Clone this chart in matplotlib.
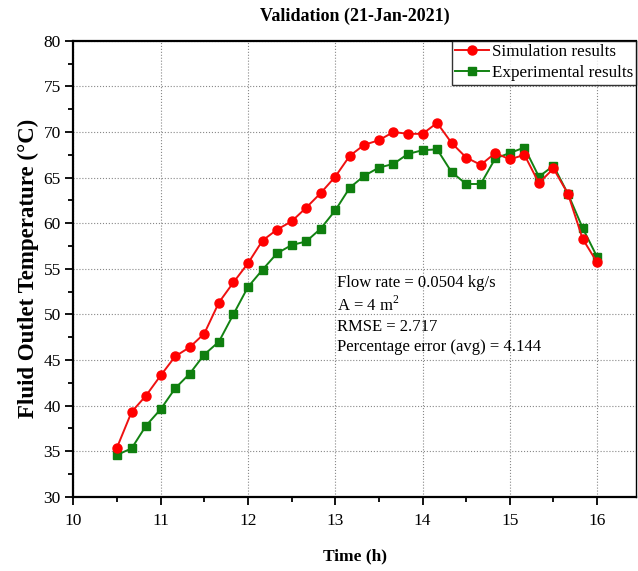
import matplotlib
matplotlib.use("Agg")
import matplotlib.pyplot as plt
from matplotlib.ticker import MultipleLocator

plt.rcParams["font.family"] = ["Liberation Serif", "DejaVu Serif"]
plt.rcParams["mathtext.fontset"] = "custom"
plt.rcParams["mathtext.rm"] = "Liberation Serif"

# ── Data ──────────────────────────────────────────────────────────────────────
time_h = [10.5, 10.667, 10.833, 11.0, 11.167, 11.333, 11.5, 11.667, 11.833,
          12.0, 12.167, 12.333, 12.5, 12.667, 12.833, 13.0, 13.167, 13.333,
          13.5, 13.667, 13.833, 14.0, 14.167, 14.333, 14.5, 14.667, 14.833,
          15.0, 15.167, 15.333, 15.5, 15.667, 15.833, 16.0]
simulation = [35.4, 39.3, 41.1, 43.3, 45.4, 46.4, 47.9, 51.3, 53.5, 55.6,
              58.1, 59.3, 60.2, 61.7, 63.3, 65.1, 67.4, 68.6, 69.1, 70.0,
              69.8, 69.8, 71.0, 68.8, 67.2, 66.4, 67.7, 67.0, 67.5, 64.4,
              66.0, 63.2, 58.3, 55.7]
experimental = [34.6, 35.3, 37.8, 39.6, 41.9, 43.5, 45.6, 47.0, 50.0, 53.0,
                54.9, 56.7, 57.6, 58.0, 59.4, 61.4, 63.9, 65.2, 66.1, 66.5,
                67.6, 68.0, 68.1, 65.6, 64.3, 64.3, 67.1, 67.7, 68.3, 65.1,
                66.3, 63.2, 59.5, 56.3]
annotation = ["Flow rate = 0.0504 kg/s", "A = 4 m$^2$", "RMSE = 2.717",
              "Percentage error (avg) = 4.144"]

RED = "#ee1111"
GREEN = "#128212"

fig = plt.figure(figsize=(6.38, 5.71), dpi=100)
ax = fig.add_axes([0.115, 0.130, 0.8825, 0.7985])

ax.plot(time_h, simulation, "-o", color=RED, lw=1.4, ms=6.5,
        markerfacecolor="#ff0000", markeredgecolor="#ff0000",
        label="Simulation results", zorder=4)
ax.plot(time_h, experimental, "-s", color=GREEN, lw=1.4, ms=6,
        markerfacecolor="#0f7f0f", markeredgecolor="#0f7f0f",
        label="Experimental results", zorder=3)

ax.set_xlim(10, 16.45)
ax.set_ylim(30, 80)
ax.xaxis.set_major_locator(MultipleLocator(1))
ax.xaxis.set_minor_locator(MultipleLocator(0.5))
ax.yaxis.set_major_locator(MultipleLocator(5))
ax.yaxis.set_minor_locator(MultipleLocator(2.5))
ax.tick_params(which="both", direction="out", width=1.3, labelsize=12.5,
               top=False, right=False)
ax.tick_params(axis="x", which="major", length=6, pad=6)
ax.tick_params(axis="y", which="major", length=6, pad=3)
ax.tick_params(which="minor", length=3.5)
ax.grid(True, which="major", linestyle=":", color="#888888", lw=0.8)
for side in ["left", "bottom", "top"]:
    ax.spines[side].set_linewidth(1.6)
ax.spines["right"].set_linewidth(1.0)

ax.set_title("Validation (21-Jan-2021)", fontsize=13, fontweight="bold", pad=14)
ax.set_xlabel("Time (h)", fontsize=12.5, fontweight="bold", labelpad=14)
ax.set_ylabel("Fluid Outlet Temperature (\u00b0C)", fontsize=16.5,
              fontweight="bold", labelpad=3)

ax.text(13.02, 54.35, "\n".join(annotation), fontsize=12, va="top", ha="left",
        linespacing=1.32)

leg = ax.legend(loc="upper right", fontsize=12.3, frameon=True, fancybox=False,
                borderpad=0.2, handlelength=2.0, handletextpad=0.15,
                labelspacing=0.3, borderaxespad=0.0)
leg.get_frame().set_edgecolor("black")
leg.get_frame().set_linewidth(1.0)

fig.savefig("out.png", dpi=100)
